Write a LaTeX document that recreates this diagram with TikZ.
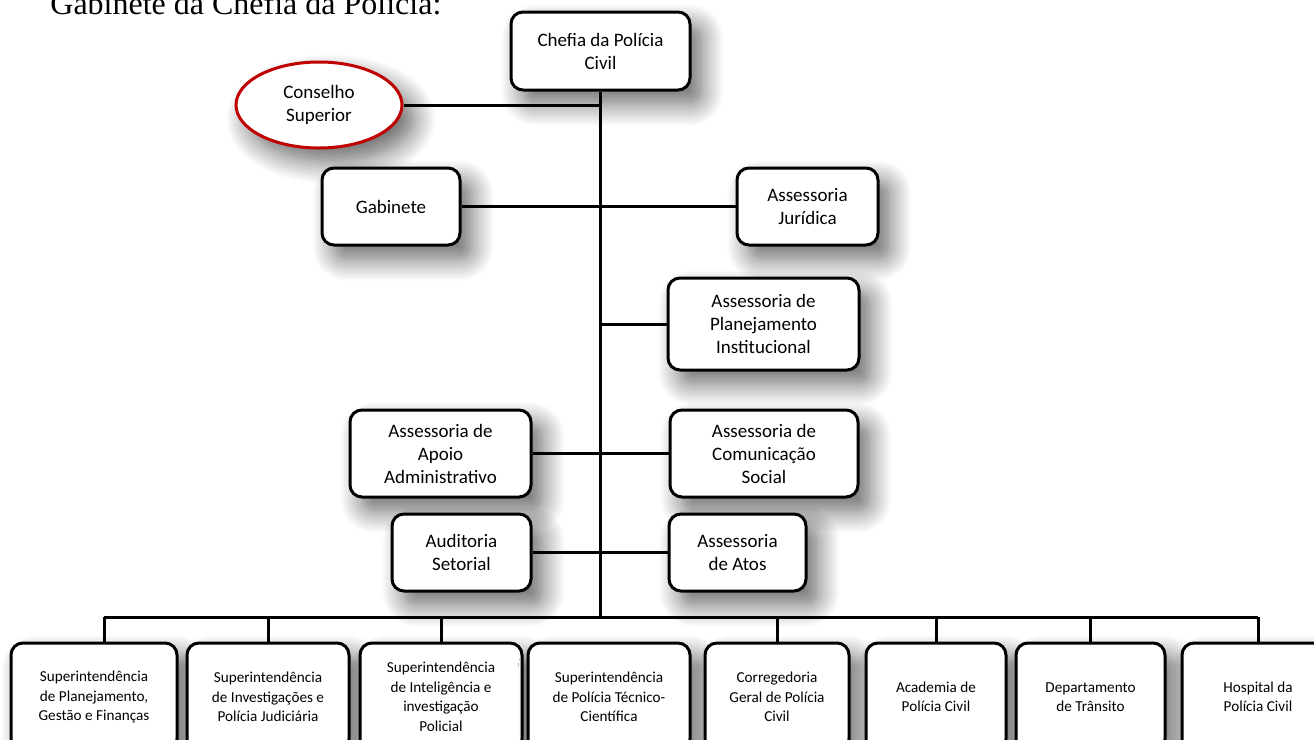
\documentclass[tikz,border=0pt]{standalone}
\usepackage{fontspec}
\setmainfont{Carlito}
\newfontfamily\titlefont{Liberation Serif}
\usetikzlibrary{shapes.geometric,shadows.blur}
\tikzset{
    orgbox/.style={draw=black, line width=1.5pt, rounded corners=6pt, fill=white,
        align=center, inner sep=0pt, font=\fontsize{9.5}{11.5}\selectfont,
        blur shadow={shadow xshift=6pt, shadow yshift=-7pt, shadow blur radius=11pt, shadow blur steps=12, shadow opacity=60}},
    basebox/.style={orgbox, font=\fontsize{7.6}{9.75}\selectfont, minimum height=54pt},
    council/.style={ellipse, draw=red!75!black, line width=1.5pt, fill=white,
        align=center, inner sep=0pt, font=\fontsize{9.5}{11.5}\selectfont,
        blur shadow={shadow xshift=6pt, shadow yshift=-7pt, shadow blur radius=11pt, shadow blur steps=12, shadow opacity=60}},
    link/.style={line width=1.5pt}
}
\begin{document}
\begin{tikzpicture}[x=0.5pt,y=-0.5pt]
        \useasboundingbox (0,0) rectangle (1314,740);

        \node[anchor=base west, inner sep=0pt, font=\titlefont\fontsize{16}{19}\selectfont] (title) at (50,14) {Gabinete da Chefia da Polícia:};

        \node[orgbox, minimum width=89.5pt, minimum height=39pt] (chefia) at (600.5,51) {Chefia da Polícia\\Civil};
        \node[council, minimum width=83pt, minimum height=43pt] (conselho) at (319,105) {Conselho\\Superior};

        \node[orgbox, minimum width=69pt, minimum height=38.5pt] (gabinete) at (391,206.5) {Gabinete};
        \node[orgbox, minimum width=70.5pt, minimum height=38.5pt] (juridica) at (807.5,206.5) {Assessoria\\Jurídica};

        \node[orgbox, minimum width=95.5pt, minimum height=46pt] (planej) at (763.5,324) {Assessoria de\\Planejamento\\Institucional};

        \node[orgbox, minimum width=90.5pt, minimum height=43.5pt] (apoio) at (440.5,453.5) {Assessoria de\\Apoio\\Administrativo};
        \node[orgbox, minimum width=94pt, minimum height=43.5pt] (comunic) at (764,453.5) {Assessoria de\\Comunicação\\Social};

        \node[orgbox, minimum width=69.5pt, minimum height=38.5pt] (auditoria) at (461.5,552.5) {Auditoria\\Setorial};
        \node[orgbox, minimum width=68.5pt, minimum height=38.5pt] (atos) at (737.5,552.5) {Assessoria\\de Atos};

        \node[basebox, minimum width=83pt] (sup1) at (94,697) {Superintendência\\de Planejamento,\\Gestão e Finanças};
        \node[basebox, minimum width=81pt] (sup2) at (268,697) {Superintendência\\de Investigações e\\Polícia Judiciária};
        \node[basebox, minimum width=81pt] (sup3) at (441,697) {Superintendência\\de Inteligência e\\investigação\\Policial};
        \node[basebox, minimum width=81pt] (sup4) at (609,697) {Superintendência\\de Polícia Técnico-\\Científica};
        \node[basebox, minimum width=72pt] (correg) at (777,697) {Corregedoria\\Geral de Polícia\\Civil};
        \node[basebox, minimum width=70pt] (academia) at (936,697) {Academia de\\Polícia Civil};
        \node[basebox, minimum width=74.5pt] (transito) at (1090.5,697) {Departamento\\de Trânsito};
        \node[basebox, minimum width=76pt] (hospital) at (1258,697) {Hospital da\\Polícia Civil};

        \coordinate (busL) at (104,617);
        \coordinate (busR) at (1258,617);

        \draw[link] (chefia.south) -- (chefia.south |- busL);
        \draw[link] (conselho.east) -- (conselho.east -| chefia.south);
        \draw[link] (gabinete.east) -- (juridica.west);
        \draw[link] (planej.west) -- (planej.west -| chefia.south);
        \draw[link] (apoio.east) -- (comunic.west);
        \draw[link] (auditoria.east) -- (atos.west);

        \draw[link] (busL) -- (busR);
        \draw[link] (busL) -- (busL |- sup1.north);
        \draw[link] (sup2.north) -- (sup2.north |- busL);
        \draw[link] (sup3.north) -- (sup3.north |- busL);
        \draw[link] (correg.north) -- (correg.north |- busL);
        \draw[link] (academia.north) -- (academia.north |- busL);
        \draw[link] (transito.north) -- (transito.north |- busL);
        \draw[link] (hospital.north) -- (hospital.north |- busL);

    \end{tikzpicture}
\end{document}
